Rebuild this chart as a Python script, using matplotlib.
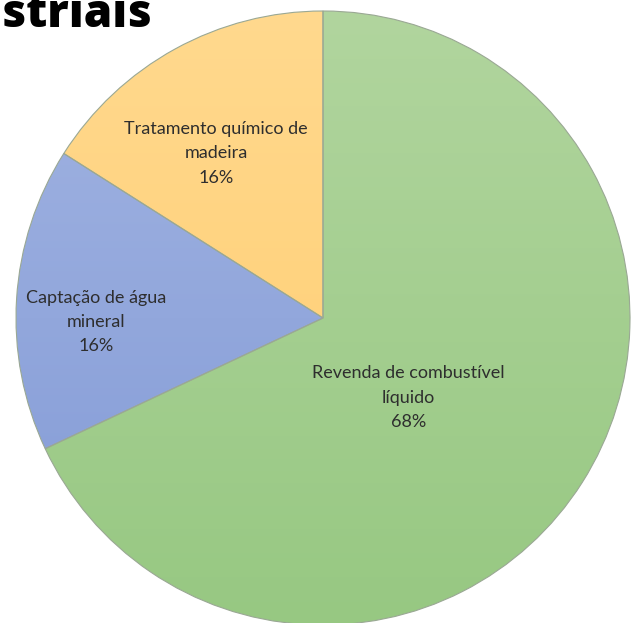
import numpy as np
import matplotlib.pyplot as plt
from matplotlib.colors import LinearSegmentedColormap

# data
labels = ["Revenda de combustível\nlíquido", "Captação de água\nmineral", "Tratamento químico de\nmadeira"]
shares = [68, 16, 16]
pct_text = ["68%", "16%", "16%"]

# gradient colours (top, bottom) per slice
grads = [("#b1d59e", "#97c882"), ("#a2b4e2", "#829ad6"), ("#ffd98e", "#ffcc6e")]
# label placement (distance from centre in radii, angle in degrees)
label_pos = [(0.38, -43), (0.74, 181), (0.64, 123)]

fig = plt.figure(figsize=(6.33, 6.23), dpi=100)
W, H = 633, 623
cx, cy, R = 323, 318, 307
ax = fig.add_axes([(cx - R) / W, (H - cy - R) / H, 2 * R / W, 2 * R / H])

wedges, _ = ax.pie(shares, startangle=90, counterclock=False,
                   wedgeprops=dict(edgecolor="#9aa894", linewidth=0.8))

yy = np.linspace(1, 0, 256).reshape(-1, 1)
for w, (top, bot) in zip(wedges, grads):
    cmap = LinearSegmentedColormap.from_list("g", [bot, top])
    w.set_facecolor("none")
    im = ax.imshow(yy, cmap=cmap, extent=(-1, 1, -1, 1), aspect="auto", zorder=0.5)
    im.set_clip_path(w)

for lab, pct, (d, ang) in zip(labels, pct_text, label_pos):
    a = np.deg2rad(ang)
    ax.text(d * np.cos(a), d * np.sin(a), lab + "\n" + pct, ha="center", va="center",
            fontsize=13, family="Lato", color="#2e2e2e", linespacing=1.65, zorder=3)

ax.set_xlim(-1, 1)
ax.set_ylim(-1, 1)
ax.set_aspect("equal")
ax.axis("off")

# cut-off title at the top left
fig.text(152 / W, 1 - 27 / H, "Industriais", ha="right", va="baseline",
         fontsize=33, fontweight="heavy", family="Open Sans", color="black")

fig.savefig("out.png", dpi=100, facecolor="white")
